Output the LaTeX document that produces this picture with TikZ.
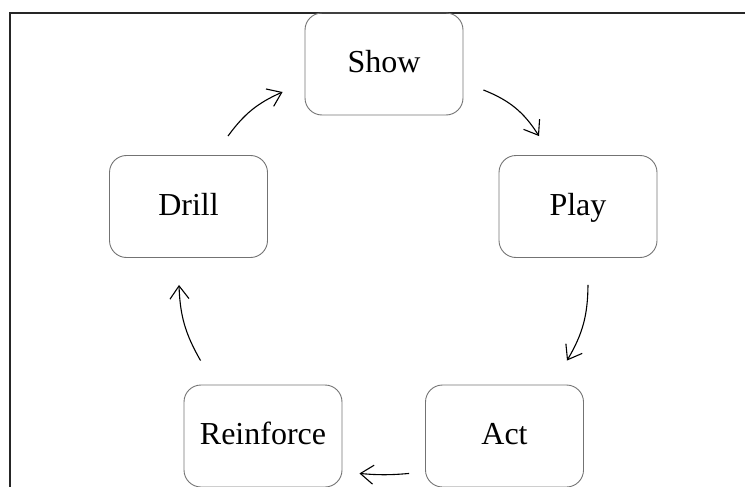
\documentclass[tikz,border=0pt]{standalone}
\usepackage{fontspec}
\setmainfont{Liberation Serif}
\usetikzlibrary{arrows.meta}
\begin{document}
\begin{tikzpicture}[x=1pt,y=1pt,
  stagebox/.style={draw=black!55, line width=0.9pt, rounded corners=17pt,
    minimum width=158pt, minimum height=102pt, inner sep=0pt,
    text height=22pt, text depth=5pt,
    font=\fontsize{32}{36}\selectfont},
  cycarrow/.style={draw=black, line width=1.1pt,
    -{Straight Barb[length=13pt,width=19pt,line width=1.1pt]}},
  frameline/.style={draw=black!85, line width=2pt}]
  \useasboundingbox (0,0) rectangle (745,-487);

  % outer frame (top and left edges)
  \draw[frameline] (10,-487) -- (10,-13) -- (745,-13);

  % the five stages
  \node[stagebox] (show)      at (384,-64)    {Show};
  \node[stagebox] (play)      at (578,-206.5) {Play};
  \node[stagebox] (act)       at (504.5,-436) {Act};
  \node[stagebox] (reinforce) at (263,-436)   {Reinforce};
  \node[stagebox] (drill)     at (188.5,-206.5) {Drill};

  % arrow end points, placed relative to the boxes
  \coordinate (s1) at ([shift={(20,-26)}]show.east);
  \coordinate (e1) at ([shift={(-39,19)}]play.north);
  \coordinate (s2) at ([shift={(10,-27)}]play.south);
  \coordinate (e2) at ([shift={(62.5,24)}]act.north);
  \coordinate (s3) at ([shift={(-16,14)}]act.south west);
  \coordinate (e3) at ([shift={(17,14)}]reinforce.south east);
  \coordinate (s4) at ([shift={(17,24)}]reinforce.north west);
  \coordinate (e4) at ([shift={(-9.5,-27)}]drill.south);
  \coordinate (s5) at ([shift={(39.5,19)}]drill.north);
  \coordinate (e5) at ([shift={(-22,-28)}]show.west);

  % clockwise cycle
  \draw[cycarrow] (s1) to[bend left=18] (e1);
  \draw[cycarrow] (s2) to[bend left=15] (e2);
  \draw[cycarrow] (s3) to[bend left=5]  (e3);
  \draw[cycarrow] (s4) to[bend left=14] (e4);
  \draw[cycarrow] (s5) to[bend left=15] (e5);
\end{tikzpicture}
\end{document}
